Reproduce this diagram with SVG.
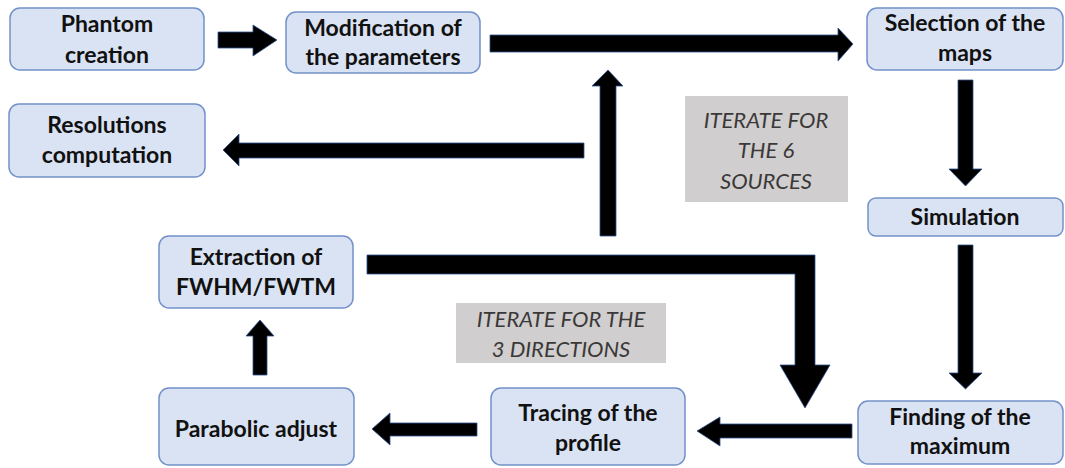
<svg xmlns="http://www.w3.org/2000/svg" width="1065" height="468" viewBox="0 0 1065 468">
<style>
.box{fill:#DAE3F3;stroke:#7391C9;stroke-width:1.5}
.note{fill:#D0CECE}
.t{font-family:Lato,"Open Sans",sans-serif;font-weight:bold;font-size:23px;fill:#111;text-anchor:middle}
.i{font-family:Lato,"Open Sans",sans-serif;font-style:italic;font-size:22px;fill:#3B3838;text-anchor:middle}
.arr{fill:#000;stroke:#2F528F;stroke-width:0.8;stroke-linejoin:miter}
</style>
<rect width="1065" height="468" fill="#fff"/>
<g id="connectors">
<polygon class="arr" points="218,32 253,32 253,25 277,40 253,56 253,48 218,48"/>
<polygon class="arr" points="490,35 838,35 838,28 853,44 838,61 838,52 490,52"/>
<polygon class="arr" points="958,80 973,80 973,169 982,169 965.5,186 949,169 958,169"/>
<polygon class="arr" points="958,245 973,245 973,373 982,373 965.5,389 949,373 958,373"/>
<polygon class="arr" points="852,424 852,438 720,438 720,446 697,431 720,417 720,424"/>
<polygon class="arr" points="477,423 477,436 390,436 390,445 372,429 390,413 390,423"/>
<polygon class="arr" points="253,375 267,375 267,336 274,336 260,320 246,336 253,336"/>
<polygon class="arr" points="367,255 815,255 815,365 830,365 805,408 780,365 795,365 795,274 367,274"/>
<polygon class="arr" points="600,236 616,236 616,86 623,86 608,70 592,86 600,86"/>
<polygon class="arr" points="584,143 584,158 239,158 239,166 223,150 239,134 239,143"/>
</g>
<g id="phantom"><rect class="box" x="10" y="8" width="194" height="62" rx="10"/><text class="t" x="107" y="32">Phantom</text><text class="t" x="107" y="63">creation</text></g>
<g id="modification"><rect class="box" x="286" y="12" width="194" height="61" rx="10"/><text class="t" x="383" y="36">Modification of</text><text class="t" x="383" y="65">the parameters</text></g>
<g id="selection"><rect class="box" x="867" y="8" width="196" height="62" rx="10"/><text class="t" x="965" y="31">Selection of the</text><text class="t" x="965" y="61">maps</text></g>
<g id="resolutions"><rect class="box" x="9" y="104" width="196" height="73" rx="10"/><text class="t" x="107" y="133">Resolutions</text><text class="t" x="107" y="163">computation</text></g>
<g id="simulation"><rect class="box" x="868" y="198" width="195" height="38" rx="8"/><text class="t" x="965" y="225">Simulation</text></g>
<g id="extraction"><rect class="box" x="159" y="236" width="194" height="72" rx="10"/><text class="t" x="256" y="265">Extraction of</text><text class="t" x="256" y="295">FWHM/FWTM</text></g>
<g id="parabolic"><rect class="box" x="159" y="388" width="195" height="77" rx="10"/><text class="t" x="256" y="437">Parabolic adjust</text></g>
<g id="tracing"><rect class="box" x="491" y="388" width="194" height="77" rx="10"/><text class="t" x="588" y="421">Tracing of the</text><text class="t" x="588" y="451">profile</text></g>
<g id="finding"><rect class="box" x="858" y="401" width="205" height="63" rx="10"/><text class="t" x="960" y="425">Finding of the</text><text class="t" x="960" y="454">maximum</text></g>
<g id="iterate-sources"><rect class="note" x="685" y="96" width="163" height="106"/><text class="i" x="766" y="128">ITERATE FOR</text><text class="i" x="766" y="158">THE 6</text><text class="i" x="766" y="189">SOURCES</text></g>
<g id="iterate-directions"><rect class="note" x="456" y="303" width="210" height="60"/><text class="i" x="561" y="327">ITERATE FOR THE</text><text class="i" x="561" y="357">3 DIRECTIONS</text></g>
</svg>
